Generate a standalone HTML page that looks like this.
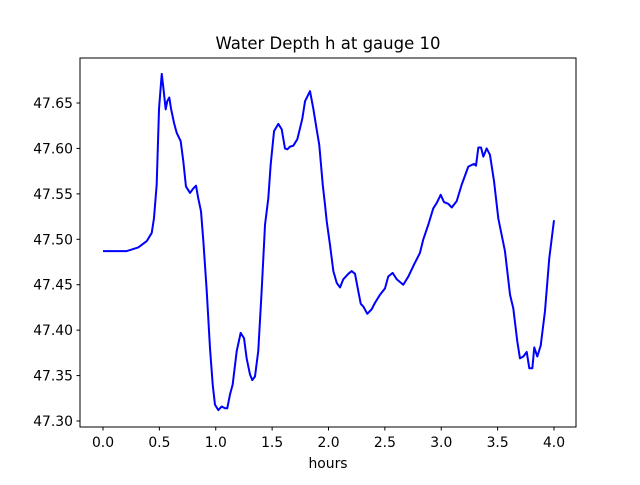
<!DOCTYPE html>
<html><head><meta charset="utf-8"><style>
body{margin:0;background:#fff}
svg text{font-family:"DejaVu Sans","Liberation Sans",sans-serif;fill:#000}
</style></head><body>
<svg id="chart" width="640" height="480" viewBox="0 0 640 480" xmlns="http://www.w3.org/2000/svg">
<rect x="0" y="0" width="640" height="480" fill="#fff"/>
<text x="328" y="49" font-size="16.5" text-anchor="middle">Water Depth h at gauge 10</text>
<g id="xticks"></g>
<g id="yticks"></g>
<path id="series" fill="none" stroke="#0000ff" stroke-width="2" stroke-linejoin="round"/>
<rect x="80" y="58" width="496" height="369" fill="none" stroke="#000" stroke-width="1"/>
<text x="328" y="468" font-size="13.9" text-anchor="middle">hours</text>
</svg>
<script>
const hours=[0,0.210,0.313,0.388,0.432,0.452,0.476,0.497,0.521,0.535,0.556,0.570,0.588,0.603,0.630,0.654,0.689,0.712,0.736,0.772,0.801,0.825,0.845,0.869,0.890,0.920,0.949,0.973,0.993,1.023,1.053,1.082,1.102,1.126,1.150,1.186,1.221,1.251,1.274,1.304,1.324,1.348,1.377,1.407,1.437,1.466,1.487,1.517,1.555,1.585,1.614,1.635,1.659,1.688,1.723,1.747,1.768,1.792,1.836,1.865,1.895,1.918,1.949,1.969,1.984,2.013,2.043,2.073,2.102,2.131,2.176,2.206,2.235,2.264,2.286,2.309,2.344,2.383,2.412,2.457,2.501,2.530,2.569,2.605,2.663,2.708,2.758,2.811,2.841,2.885,2.929,2.960,2.995,3.024,3.062,3.093,3.137,3.181,3.240,3.290,3.308,3.329,3.353,3.373,3.403,3.432,3.468,3.506,3.565,3.610,3.639,3.674,3.698,3.728,3.758,3.781,3.808,3.825,3.852,3.882,3.920,3.958,4.0];
const depth=[47.487,47.487,47.491,47.498,47.507,47.523,47.560,47.644,47.682,47.667,47.643,47.652,47.656,47.644,47.628,47.617,47.608,47.586,47.558,47.551,47.556,47.559,47.545,47.531,47.498,47.443,47.380,47.340,47.318,47.312,47.316,47.314,47.314,47.329,47.340,47.377,47.397,47.391,47.369,47.351,47.345,47.349,47.377,47.443,47.516,47.545,47.582,47.619,47.627,47.621,47.600,47.599,47.602,47.603,47.610,47.622,47.633,47.652,47.663,47.644,47.621,47.604,47.560,47.538,47.520,47.494,47.465,47.452,47.447,47.456,47.462,47.465,47.462,47.443,47.429,47.426,47.418,47.423,47.430,47.439,47.446,47.459,47.463,47.456,47.450,47.459,47.472,47.485,47.500,47.516,47.534,47.540,47.549,47.541,47.539,47.535,47.542,47.560,47.580,47.583,47.581,47.601,47.601,47.591,47.600,47.593,47.564,47.523,47.487,47.439,47.424,47.388,47.369,47.371,47.376,47.358,47.358,47.381,47.371,47.383,47.421,47.479,47.521];
const xTicks=[0,0.5,1,1.5,2,2.5,3,3.5,4];
const yTicks=[47.30,47.35,47.40,47.45,47.50,47.55,47.60,47.65];
const NS='http://www.w3.org/2000/svg';
function xs(v){return 103+(v-0)*112.75;}
function ys(v){return 103-(v-47.65)*908.6;}
const xg=document.getElementById('xticks'),yg=document.getElementById('yticks');
xTicks.forEach(t=>{
  const l=document.createElementNS(NS,'line');
  l.setAttribute('x1',xs(t));l.setAttribute('x2',xs(t));l.setAttribute('y1',427);l.setAttribute('y2',430.5);
  l.setAttribute('stroke','#000');
  
  
  xg.appendChild(l);
  const tx=document.createElementNS(NS,'text');
  tx.setAttribute('x',xs(t));tx.setAttribute('y',447);tx.setAttribute('font-size','13.9');tx.setAttribute('text-anchor','middle');
  tx.textContent=t.toFixed(1);
  
  
  xg.appendChild(tx);
});
yTicks.forEach(t=>{
  const l=document.createElementNS(NS,'line');
  l.setAttribute('x1',76.5);l.setAttribute('x2',80);l.setAttribute('y1',ys(t));l.setAttribute('y2',ys(t));
  l.setAttribute('stroke','#000');
  
  
  yg.appendChild(l);
  const tx=document.createElementNS(NS,'text');
  tx.setAttribute('x',73);tx.setAttribute('y',ys(t)+5);tx.setAttribute('font-size','13.9');tx.setAttribute('text-anchor','end');
  tx.textContent=t.toFixed(2);
  
  
  yg.appendChild(tx);
});
let d='';
hours.forEach((h,i)=>{d+=(i?'L':'M')+xs(h).toFixed(2)+','+ys(depth[i]).toFixed(2);});
document.getElementById('series').setAttribute('d',d);
</script>
</body></html>
